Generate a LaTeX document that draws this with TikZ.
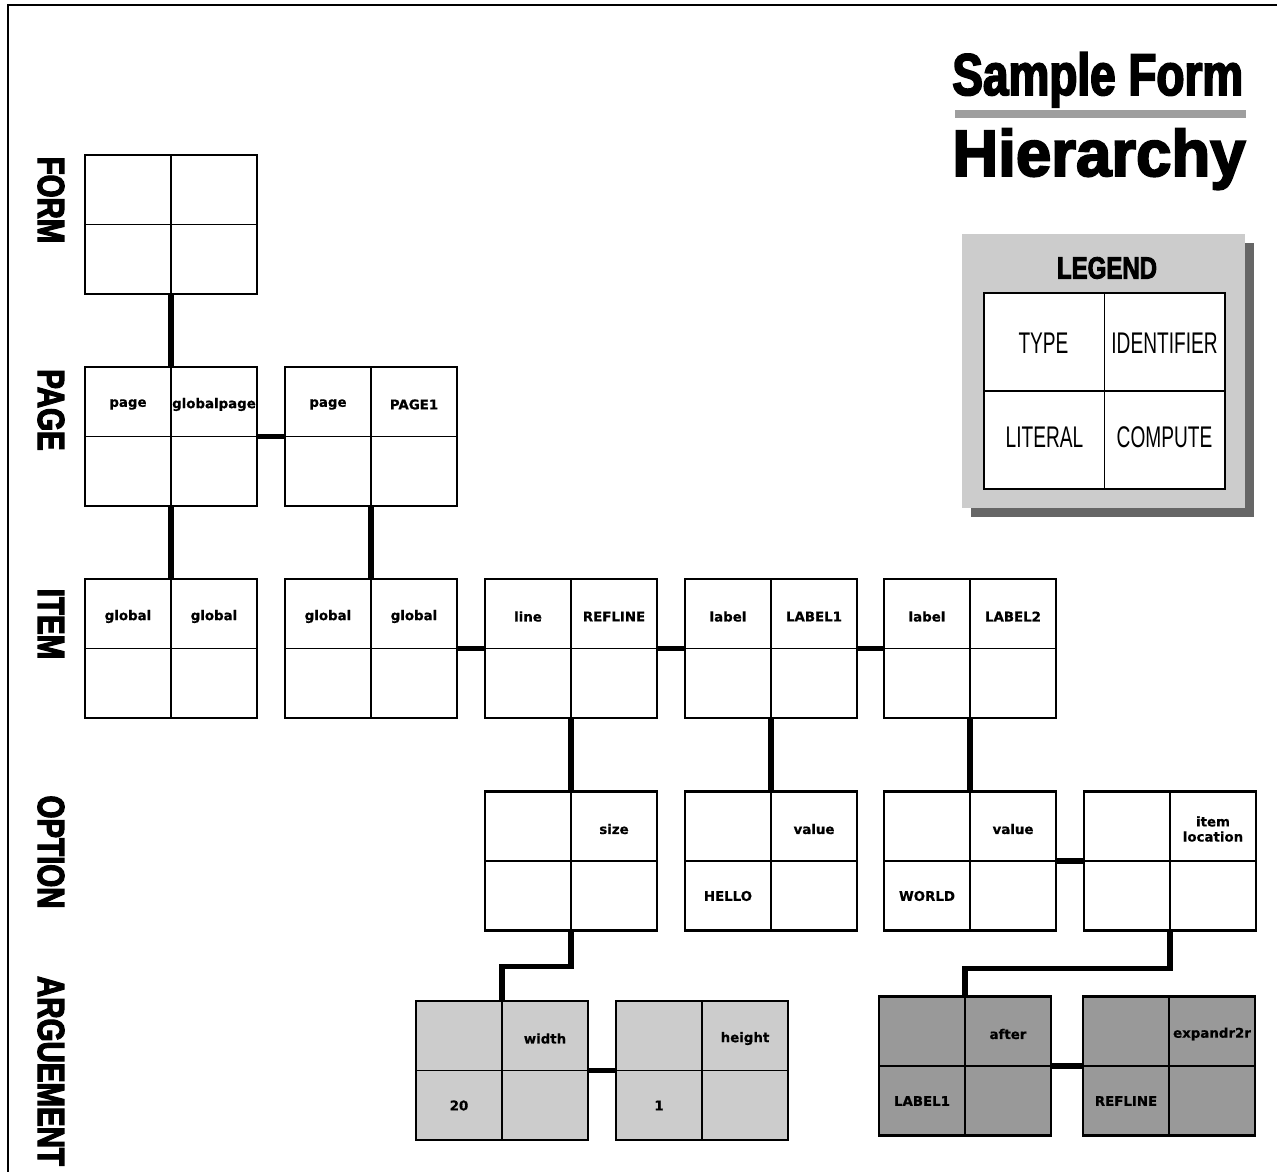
\documentclass[tikz,border=0pt]{standalone}
\usepackage{fontspec}
\usetikzlibrary{calc}
\newfontfamily\headfont[FakeStretch=0.78,BoldFeatures={FakeBold=3}]{Liberation Sans}
\newfontfamily\bigfont[FakeStretch=0.97,BoldFeatures={FakeBold=3}]{Liberation Sans}
\newfontfamily\cellfont[BoldFeatures={FakeBold=0.6}]{DejaVu Sans}
\newfontfamily\keyfont[FakeStretch=0.64]{Liberation Sans}
% one record: fill, name, centre, type, identifier, literal
\newcommand{\recbox}[6][white]{%
  \node[rec,fill=#1] (#2) at (#3) {};
  \node[tag] (#2-tl) at ($(#2.center)+(-43,-32)$) {#4};
  \node[tag] (#2-tr) at ($(#2.center)+(43,-32)$) {#5};
  \node[tag] (#2-bl) at ($(#2.center)+(-43,35)$) {#6};
}
\begin{document}
\begin{tikzpicture}[x=0.02cm,y=-0.02cm,
rec/.style={draw,line width=1.6pt,minimum width=3.44cm,minimum height=2.78cm,inner sep=0,outer sep=0,
  path picture={\draw[line width=0.8pt] (path picture bounding box.north) -- (path picture bounding box.south)
    (path picture bounding box.west) -- (path picture bounding box.east);}},
keytab/.style={rec,fill=white,line width=1.3pt,minimum width=4.82cm,minimum height=3.92cm},
tag/.style={inner sep=0,align=center,font=\cellfont\bfseries\fontsize{7.6}{8.6}\selectfont},
key/.style={inner sep=0,font=\keyfont\fontsize{17}{20}\selectfont},
level/.style={inner sep=0,rotate=-90,font=\headfont\bfseries\fontsize{21.5}{24}\selectfont},
link/.style={line width=3.2pt}
]
\useasboundingbox (0,0) rectangle (1277,1172);
\draw[line width=1.7pt] (1277,5) -- (8,5) -- (8,1172);

% title and legend
\node[anchor=base west,inner sep=0,font=\headfont\bfseries\fontsize{33.5}{36}\selectfont] (title) at (952,95) {Sample Form};
\draw[black!38,line width=4pt] (955,114) -- (1246,114);
\node[anchor=base west,inner sep=0,font=\bigfont\bfseries\fontsize{37.3}{40}\selectfont] (subtitle) at (952,176) {Hierarchy};
\fill[black!60] (971,243) rectangle (1254,517);
\fill[black!20] (962,234) rectangle (1245,508);
\node[inner sep=0,font=\headfont\bfseries\fontsize{17.5}{20}\selectfont] (legend) at (1107,268) {LEGEND};
\node[keytab] (keys) at (1104.5,391) {};
\node[key] at ($(keys.center)+(-61,-48)$) {TYPE};
\node[key] at ($(keys.center)+(60,-48)$) {IDENTIFIER};
\node[key] at ($(keys.center)+(-60,46)$) {LITERAL};
\node[key] at ($(keys.center)+(60,46)$) {COMPUTE};

% levels
\node[level] (lform) at (51,200) {FORM};
\node[level] (lpage) at (51,410) {PAGE};
\node[level] (litem) at (51,624) {ITEM};
\node[level] (lopt) at (51,852) {OPTION};
\node[level] (larg) at (51,1071) {ARGUEMENT};

% records
\recbox{form}{171,224.5}{}{}{}
\recbox{pg1}{171,436.5}{page}{globalpage}{}
\recbox{pg2}{371,436.5}{page}{PAGE1}{}
\recbox{it1}{171,648.5}{global}{global}{}
\recbox{it2}{371,648.5}{global}{global}{}
\recbox{it3}{571,648.5}{line}{REFLINE}{}
\recbox{it4}{771,648.5}{label}{LABEL1}{}
\recbox{it5}{970,648.5}{label}{LABEL2}{}
\recbox{op1}{571,861}{}{size}{}
\recbox{op2}{771,861}{}{value}{HELLO}
\recbox{op3}{970,861}{}{value}{WORLD}
\recbox{op4}{1170,861}{}{item\\location}{}
\recbox[black!20]{arg1}{502,1070.5}{}{width}{20}
\recbox[black!20]{arg2}{702,1070.5}{}{height}{1}
\recbox[black!40]{arg3}{965,1066}{}{after}{LABEL1}
\recbox[black!40]{arg4}{1169,1066}{}{expandr2r}{REFLINE}

% links
\draw[link] (form.south) -- (pg1.north);
\draw[link] (pg1.east) -- (pg2.west);
\draw[link] (pg1.south) -- (it1.north);
\draw[link] (pg2.south) -- (it2.north);
\draw[link] (it2.east) -- (it3.west);
\draw[link] (it3.east) -- (it4.west);
\draw[link] (it4.east) -- (it5.west);
\draw[link] (it3.south) -- (op1.north);
\draw[link] (it4.south) -- (op2.north);
\draw[link] (it5.south) -- (op3.north);
\draw[link] (op3.east) -- (op4.west);
\draw[link] (op1.south) -- ++(0,36) -| (arg1.north);
\draw[link] (op4.south) -- ++(0,38) -| (arg3.north);
\draw[link] (arg1.east) -- (arg2.west);
\draw[link] (arg3.east) -- (arg4.west);
\end{tikzpicture}
\end{document}
